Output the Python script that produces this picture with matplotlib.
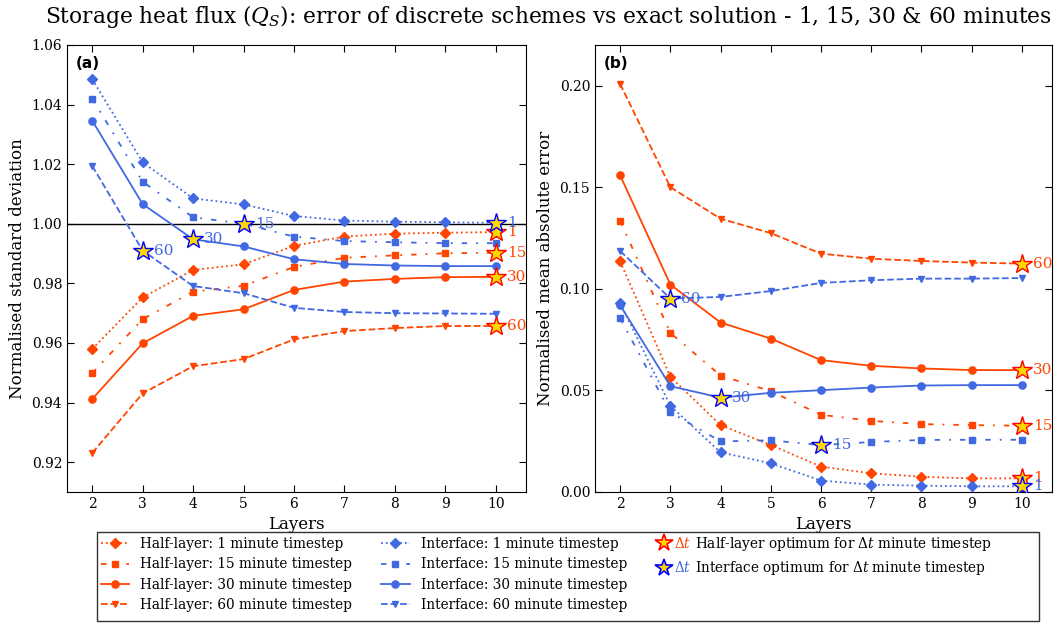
import numpy as np
import matplotlib
matplotlib.use('Agg')
import matplotlib.pyplot as plt
from matplotlib.lines import Line2D
from matplotlib.text import Text
from matplotlib.legend_handler import HandlerBase

plt.rcParams['font.family'] = 'DejaVu Serif'
plt.rcParams['mathtext.fontset'] = 'dejavuserif'

C_HALF = '#FF4500'
C_INT = '#4169E1'

layers = [2, 3, 4, 5, 6, 7, 8, 9, 10]
timesteps = [1, 15, 30, 60]

# ── (a) normalised standard deviation ────────────────────────────────────────
std_half = {
    1:  [0.9580, 0.9753, 0.9845, 0.9864, 0.9926, 0.9957, 0.9967, 0.9970, 0.9972],
    15: [0.9499, 0.9680, 0.9772, 0.9792, 0.9855, 0.9886, 0.9894, 0.9901, 0.9903],
    30: [0.9412, 0.9599, 0.9691, 0.9713, 0.9778, 0.9806, 0.9815, 0.9821, 0.9822],
    60: [0.9231, 0.9431, 0.9522, 0.9546, 0.9612, 0.9640, 0.9650, 0.9657, 0.9657],
}
std_int = {
    1:  [1.0485, 1.0206, 1.0085, 1.0065, 1.0026, 1.0011, 1.0007, 1.0005, 1.0003],
    15: [1.0420, 1.0141, 1.0022, 1.0000, 0.9957, 0.9942, 0.9938, 0.9935, 0.9935],
    30: [1.0346, 1.0066, 0.9948, 0.9924, 0.9881, 0.9865, 0.9860, 0.9858, 0.9858],
    60: [1.0194, 0.9910, 0.9791, 0.9767, 0.9718, 0.9704, 0.9700, 0.9699, 0.9698],
}
# optimum layer count per timestep
std_opt_half = {1: 10, 15: 10, 30: 10, 60: 10}
std_opt_int = {1: 10, 15: 5, 30: 4, 60: 3}

# ── (b) normalised mean absolute error ───────────────────────────────────────
mae_half = {
    1:  [0.1135, 0.0567, 0.0329, 0.0231, 0.0125, 0.0092, 0.0075, 0.0067, 0.0067],
    15: [0.1335, 0.0783, 0.0573, 0.0496, 0.0380, 0.0350, 0.0334, 0.0329, 0.0326],
    30: [0.1558, 0.1021, 0.0834, 0.0755, 0.0649, 0.0621, 0.0608, 0.0600, 0.0600],
    60: [0.2008, 0.1500, 0.1345, 0.1274, 0.1173, 0.1148, 0.1137, 0.1129, 0.1124],
}
mae_int = {
    1:  [0.0930, 0.0424, 0.0195, 0.0141, 0.0056, 0.0036, 0.0031, 0.0028, 0.0028],
    15: [0.0855, 0.0392, 0.0249, 0.0254, 0.0231, 0.0246, 0.0256, 0.0257, 0.0257],
    30: [0.0919, 0.0521, 0.0464, 0.0488, 0.0501, 0.0514, 0.0524, 0.0526, 0.0526],
    60: [0.1186, 0.0952, 0.0960, 0.0989, 0.1029, 0.1042, 0.1050, 0.1050, 0.1053],
}
mae_opt_half = {1: 10, 15: 10, 30: 10, 60: 10}
mae_opt_int = {1: 10, 15: 6, 30: 4, 60: 3}

STYLE = {
    1:  (':', 'D', 5),
    15: ((0, (3, 5, 1, 5)), 's', 4.8),
    30: ('-', 'o', 5.2),
    60: ('--', 'v', 5),
}


class StarHandler(HandlerBase):
    def create_artists(self, legend, orig_handle, xdescent, ydescent,
                       width, height, fontsize, trans):
        y = height / 2 - ydescent
        star = Line2D([-xdescent + width * 0.3], [y], marker='*', ms=13,
                      mfc='gold', mec=orig_handle.get_markeredgecolor(),
                      mew=1.2, ls='none', transform=trans)
        txt = Text(-xdescent + width * 0.66, y, r'$\Delta t$',
                   color=orig_handle.get_color(), fontsize=fontsize,
                   va='center', ha='left', transform=trans)
        return [star, txt]


def style_ax(ax, ylabel, ylim, yticks, yfmt):
    ax.set_xlim(1.5, 10.6)
    ax.set_ylim(*ylim)
    ax.set_xticks(layers)
    ax.set_yticks(yticks)
    ax.set_yticklabels([yfmt.format(v) for v in yticks])
    ax.tick_params(direction='in', top=True, right=True, labelsize=10, length=5)
    ax.set_xlabel('Layers', fontsize=12)
    ax.set_ylabel(ylabel, fontsize=12)


def plot_panel(ax, half, inter, opt_half, opt_int):
    for ts in timesteps:
        ls, mk, ms = STYLE[ts]
        ax.plot(layers, half[ts], color=C_HALF, ls=ls, marker=mk, ms=ms,
                mec=C_HALF, lw=1.3)
        ax.plot(layers, inter[ts], color=C_INT, ls=ls, marker=mk, ms=ms,
                mec=C_INT, lw=1.3)
    for data, opt, col, edge in [(half, opt_half, C_HALF, 'red'),
                                 (inter, opt_int, C_INT, 'blue')]:
        for ts in timesteps:
            n = opt[ts]
            v = data[ts][layers.index(n)]
            ax.plot([n], [v], marker='*', ms=15, mfc='gold', mec=edge,
                    mew=1.0, ls='none', zorder=6)
            ax.annotate(str(ts), (n, v), xytext=(8, 0),
                        textcoords='offset points', va='center', ha='left',
                        color=col, fontsize=11, zorder=7)


fig = plt.figure(figsize=(10.62, 6.23), dpi=100)
ax1 = fig.add_axes([0.0631, 0.2103, 0.4322, 0.7175])
ax2 = fig.add_axes([0.5603, 0.2103, 0.4303, 0.7175])

plot_panel(ax1, std_half, std_int, std_opt_half, std_opt_int)
ax1.axhline(1.0, color='black', lw=1.0, zorder=1)
style_ax(ax1, 'Normalised standard deviation', (0.91, 1.06),
         [0.92, 0.94, 0.96, 0.98, 1.00, 1.02, 1.04, 1.06], '{:.2f}')

plot_panel(ax2, mae_half, mae_int, mae_opt_half, mae_opt_int)
style_ax(ax2, 'Normalised mean absolute error', (0.0, 0.22),
         [0.00, 0.05, 0.10, 0.15, 0.20], '{:.2f}')

for ax, lbl in [(ax1, '(a)'), (ax2, '(b)')]:
    ax.text(0.02, 0.975, lbl, transform=ax.transAxes, ha='left', va='top',
            fontsize=11, fontweight='bold', family='DejaVu Sans')

fig.suptitle(r'Storage heat flux ($Q_S$): error of discrete schemes vs exact '
             r'solution - 1, 15, 30 & 60 minutes', x=0.516, y=0.995,
             va='top', fontsize=15.7)

# ── legend ───────────────────────────────────────────────────────────────────
handles, labels = [], []
for name, col in [('Half-layer', C_HALF), ('Interface', C_INT)]:
    for ts in timesteps:
        ls, mk, ms = STYLE[ts]
        handles.append(Line2D([], [], color=col, ls=ls, marker=mk, ms=ms,
                              mec=col, lw=1.3))
        labels.append(f'{name}: {ts} minute timestep')
star_half = Line2D([], [], color=C_HALF, mec='red')
star_int = Line2D([], [], color=C_INT, mec='blue')
blank = Line2D([], [], color='none')
handles += [star_half, star_int, blank, blank]
pad = '\u00a0' * 11
labels += [r'Half-layer optimum for $\Delta t$ minute timestep' + pad,
           r'Interface optimum for $\Delta t$ minute timestep', ' ', ' ']

leg = fig.legend(handles, labels, loc='lower center', ncol=3,
                 bbox_to_anchor=(0.535, 0.003), borderaxespad=0.0,
                 fontsize=9.85, numpoints=1,
                 handlelength=2.1, handletextpad=0.8, columnspacing=2.1,
                 labelspacing=0.45, fancybox=False, edgecolor='black',
                 borderpad=0.25,
                 handler_map={star_half: StarHandler(), star_int: StarHandler()})
leg.get_frame().set_linewidth(1.0)

fig.savefig('out.png', dpi=100)
